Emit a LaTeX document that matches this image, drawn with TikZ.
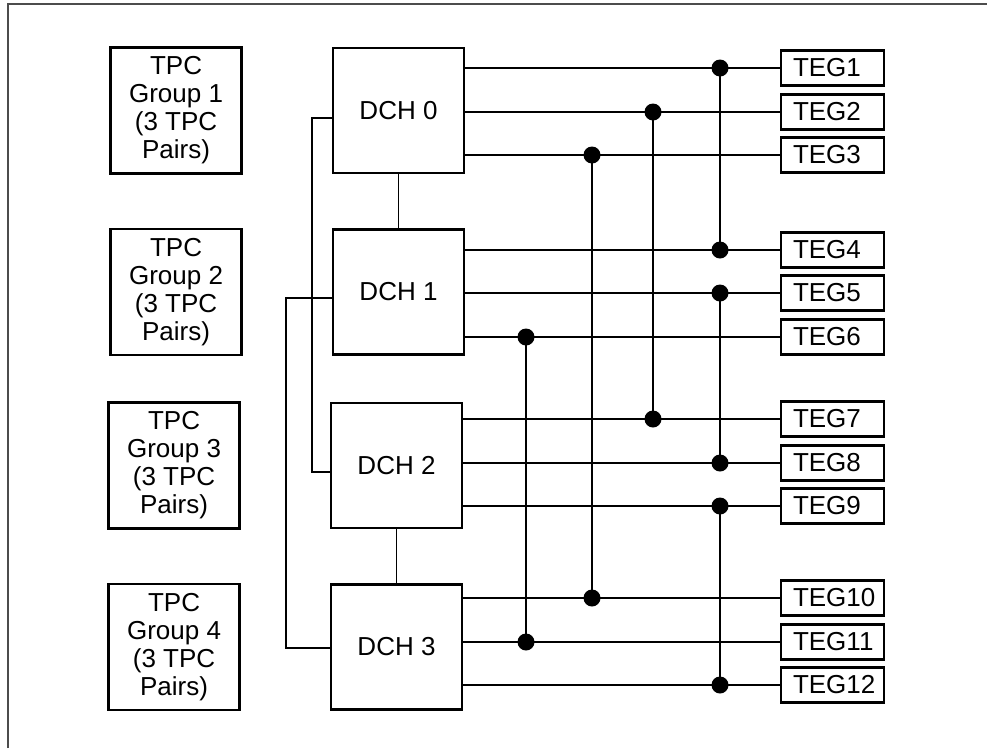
\documentclass[tikz,border=0pt]{standalone}
\usepackage{fontspec}
\setmainfont{Liberation Sans}
\usetikzlibrary{positioning}
\tikzset{
  every picture/.style={line join=miter},
  lbl/.style={font=\fontsize{14.8}{15.9}\selectfont},
  box/.style={lbl, draw, line width=1.4pt, minimum width=2.62cm, minimum height=2.5cm,
              align=center, inner sep=2pt},
  tpcbox/.style={box, minimum height=2.52cm},
  dchbox/.style={box},
  tegbox/.style={lbl, draw, line width=1.3pt, minimum height=0.7cm, text width=1.58cm,
                 inner xsep=0.24cm, inner ysep=0pt, align=left},
  wire/.style={line width=1.1pt},
  dot/.style={circle, fill, inner sep=0pt, minimum size=0.34cm},
  frame/.style={line width=0.6pt, black!70},
}

\begin{document}
\begin{tikzpicture}[x=0.02cm, y=-0.02cm]
  \useasboundingbox (0,0) rectangle (987,748);
  \draw[frame] (8,748) -- (8,4) -- (987,4);
  % DCH column
  \node[dchbox] (dch0) at (398.5,110.5) {DCH 0};
  \node[dchbox, below=1.08cm of dch0] (dch1) {DCH 1};
  \node[dchbox, below=0.92cm of dch1, xshift=-0.04cm] (dch2) {DCH 2};
  \node[dchbox, below=1.08cm of dch2] (dch3) {DCH 3};
  % TPC groups
  \foreach \i/\d in {1/0, 2/1, 3/2, 4/3}
    \node[tpcbox, left=1.78cm of dch\d] (tpc\i) {TPC\\Group \i\\(3 TPC\\Pairs)};
  % TEG column
  \foreach \i/\y in {1/68, 2/112, 3/155, 4/250, 5/293, 6/337,
                     7/419, 8/463, 9/506, 10/598, 11/642, 12/685}
    \node[tegbox] (teg\i) at (832.5,\y) {TEG\i};
  % DCH chain
  \draw[wire] (dch0) -- (dch1);
  \draw[wire] (dch2) -- (dch3);
  \draw[wire] ([yshift=-0.15cm]dch0.west) -- ++(-20,0) |- ([yshift=-0.14cm]dch2.west);
  \draw[wire] ([yshift=-0.13cm]dch1.west) -- ++(-46,0) |- ([yshift=-0.03cm]dch3.west);
  % DCH outputs
  \foreach \d/\i in {0/1, 0/2, 0/3, 1/4, 1/5, 1/6, 2/7, 2/8, 2/9, 3/10, 3/11, 3/12}
    \draw[wire] (dch\d.east |- teg\i.west) -- (teg\i.west);
  % cross links
  \foreach \a/\b/\x in {1/4/720, 5/8/720, 9/12/720, 2/7/653, 3/10/592, 6/11/526} {
    \coordinate (busx) at (\x,0);
    \draw[wire] (busx |- teg\a.west) -- (busx |- teg\b.west);
    \node[dot] at (busx |- teg\a.west) {};
    \node[dot] at (busx |- teg\b.west) {};
  }
\end{tikzpicture}
\end{document}
